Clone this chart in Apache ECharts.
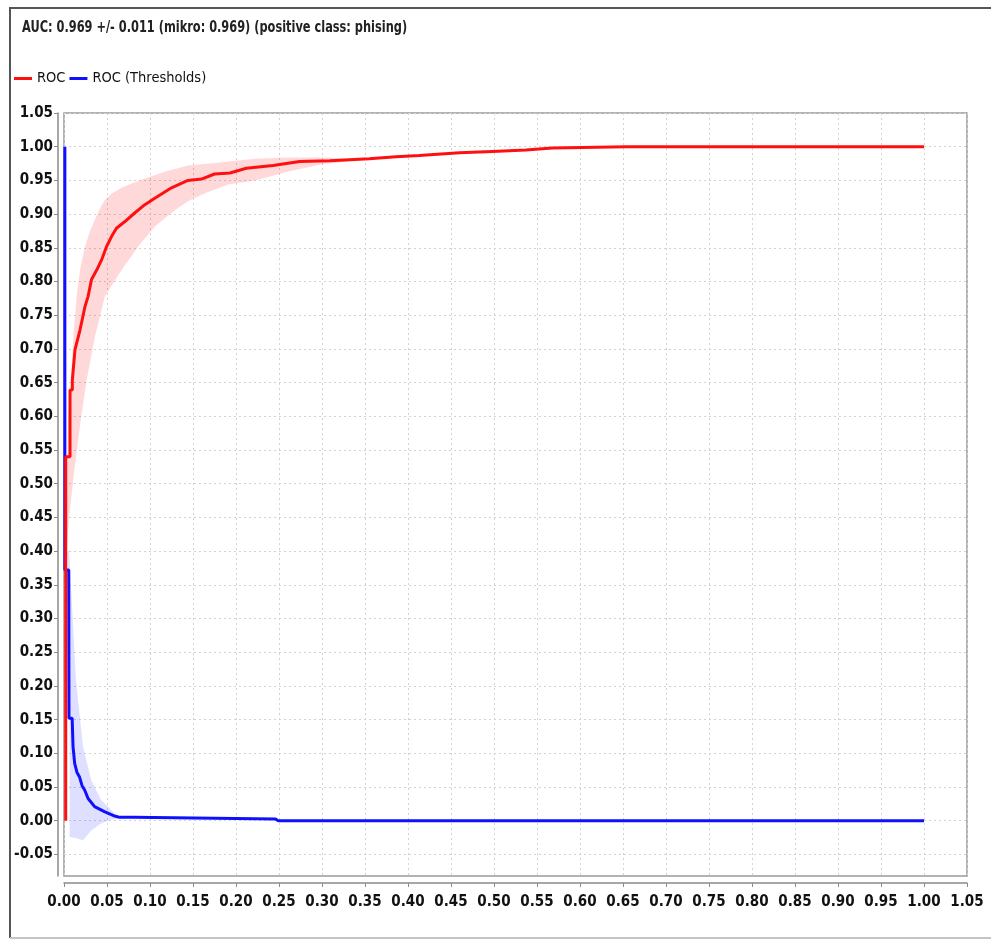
<!DOCTYPE html>
<html>
<head>
<meta charset="utf-8">
<script src="https://cdn.jsdelivr.net/npm/echarts@6/dist/echarts.min.js"></script>
<style>
html,body{margin:0;padding:0;background:#fff;}
#chart{width:991px;height:942px;}
</style>
</head>
<body>
<div id="chart"></div>
<script>
const titleText = 'AUC: 0.969 +/- 0.011 (mikro: 0.969) (positive class: phising)';
const seriesNames = ['ROC', 'ROC (Thresholds)'];

const xTicks = [0,0.05,0.10,0.15,0.20,0.25,0.30,0.35,0.40,0.45,0.50,0.55,0.60,0.65,0.70,0.75,0.80,0.85,0.90,0.95,1.00,1.05];
const yTicks = [-0.05,0,0.05,0.10,0.15,0.20,0.25,0.30,0.35,0.40,0.45,0.50,0.55,0.60,0.65,0.70,0.75,0.80,0.85,0.90,0.95,1.00,1.05];

// ROC curve (FPR, TPR)
const rocPoints = [
  [0.002,0.0],[0.002,0.54],[0.007,0.54],[0.007,0.639],[0.0097,0.639],[0.0097,0.654],
  [0.0128,0.699],[0.0186,0.728],[0.0244,0.763],[0.028,0.778],[0.032,0.803],[0.038,0.817],
  [0.0437,0.832],[0.0495,0.852],[0.0554,0.867],[0.061,0.879],[0.0708,0.889],[0.0825,0.902],
  [0.094,0.914],[0.106,0.924],[0.125,0.939],[0.144,0.950],[0.16,0.952],[0.175,0.9595],
  [0.193,0.961],[0.212,0.968],[0.243,0.972],[0.274,0.978],[0.309,0.979],[0.355,0.982],
  [0.386,0.985],[0.413,0.987],[0.46,0.991],[0.498,0.993],[0.537,0.995],[0.568,0.998],
  [0.654,1.0],[1.0,1.0]
];
// ROC thresholds curve
const thrPoints = [
  [0.001,1.0],[0.001,0.372],[0.0055,0.372],[0.0058,0.152],[0.0095,0.152],
  [0.0105,0.110],[0.0124,0.085],[0.015,0.072],[0.018,0.065],[0.021,0.052],[0.024,0.0456],
  [0.028,0.033],[0.0356,0.021],[0.047,0.0134],[0.059,0.007],[0.065,0.005],[0.081,0.005],
  [0.083,0.0025],[0.246,0.0025],[0.249,0.0],[1.0,0.0]
];
// ROC deviation band edges (same direction, polygon = outer + reversed inner)
const rocBandOuter = [
  [0.001,0.40],[0.003,0.50],[0.005,0.60],[0.0081,0.654],[0.011,0.72],[0.0147,0.778],
  [0.019,0.82],[0.0244,0.852],[0.030,0.874],[0.036,0.892],[0.042,0.909],[0.0476,0.921],
  [0.056,0.931],[0.067,0.939],[0.078,0.945],[0.090,0.951],[0.117,0.963],[0.144,0.972],
  [0.175,0.976],[0.222,0.982],[0.26,0.984],[0.30,0.984],[0.33,0.982]
];
const rocBandInner = [
  [0.003,0.40],[0.006,0.45],[0.012,0.52],[0.020,0.60],[0.0264,0.654],[0.036,0.718],
  [0.0476,0.778],[0.067,0.817],[0.0863,0.852],[0.106,0.882],[0.125,0.902],[0.144,0.919],
  [0.164,0.931],[0.191,0.944],[0.222,0.950],[0.26,0.963],[0.30,0.974],[0.33,0.978]
];
// Thresholds deviation band edges
const thrBandOuter = [
  [0.006,0.40],[0.0139,0.209],[0.018,0.160],[0.022,0.110],[0.0317,0.060],
  [0.043,0.031],[0.055,0.016],[0.060,0.008],[0.067,0.003]
];
const thrBandInner = [
  [0.004,0.40],[0.0066,0.18],[0.0066,-0.024],[0.015,-0.026],[0.022,-0.029],
  [0.032,-0.014],[0.043,-0.004],[0.055,0.002],[0.067,0.003]
];

const labelFont = "'DejaVu Sans Condensed', 'DejaVu Sans', sans-serif";

function bandSeries(outer, inner, color) {
  const poly = outer.concat(inner.slice().reverse());
  return {
    type: 'custom',
    silent: true,
    clip: true,
    z: 1,
    data: [[0, 0]],
    renderItem: function (params, api) {
      return {
        type: 'polygon',
        shape: { points: poly.map(p => api.coord(p)) },
        style: { fill: color, stroke: null }
      };
    }
  };
}

const chart = echarts.init(document.getElementById('chart'), null, { renderer: 'canvas' });
chart.setOption({
  animation: false,
  backgroundColor: '#fff',
  legend: {
    left: 14, top: 71, padding: 0,
    itemWidth: 18, itemHeight: 3, itemGap: 4,
    icon: 'rect',
    data: seriesNames,
    textStyle: { fontFamily: labelFont, fontSize: 14.5, color: '#111' }
  },
  graphic: [
    { type: 'line', shape: { x1: 9, y1: 8, x2: 991, y2: 8 }, style: { stroke: '#555', lineWidth: 2 } },
    { type: 'line', shape: { x1: 10, y1: 8, x2: 10, y2: 938 }, style: { stroke: '#555', lineWidth: 2 } },
    { type: 'line', shape: { x1: 10, y1: 938, x2: 991, y2: 938 }, style: { stroke: '#c4c4c4', lineWidth: 2 } },
    {
      type: 'text', x: 22, y: 28, scaleX: 0.79,
      style: {
        text: titleText, fill: '#222',
        font: "bold 16px 'DejaVu Sans Condensed', 'DejaVu Sans', sans-serif",
        verticalAlign: 'middle', align: 'left'
      }
    }
  ],
  grid: {
    left: 64, right: 24, top: 113, bottom: 66,
    show: true, borderColor: '#9a9a9a', borderWidth: 1.5, backgroundColor: 'transparent'
  },
  xAxis: {
    type: 'value', min: 0, max: 1.05,
    offset: 7,
    axisLine: { show: true, onZero: false, lineStyle: { color: '#8a8a8a', width: 1.5 } },
    axisTick: { show: true, length: 4, inside: false, customValues: xTicks, lineStyle: { color: '#8a8a8a' } },
    axisLabel: {
      customValues: xTicks, margin: 12,
      formatter: v => v.toFixed(2),
      fontFamily: labelFont, fontWeight: 'bold', fontSize: 15, color: '#111'
    },
    splitLine: { show: true, lineStyle: { color: '#d2d2d2', type: [2, 3], width: 1 } }
  },
  yAxis: {
    type: 'value', min: -0.082, max: 1.05,
    offset: 6,
    axisLine: { show: true, onZero: false, lineStyle: { color: '#8a8a8a', width: 1.5 } },
    axisTick: { show: true, length: 4, inside: false, customValues: yTicks, lineStyle: { color: '#8a8a8a' } },
    axisLabel: {
      customValues: yTicks, margin: 5,
      formatter: v => v.toFixed(2),
      fontFamily: labelFont, fontWeight: 'bold', fontSize: 15, color: '#111'
    },
    splitLine: { show: true, lineStyle: { color: '#d2d2d2', type: [2, 3], width: 1 } }
  },
  series: [
    bandSeries(rocBandOuter, rocBandInner, 'rgba(255,0,0,0.15)'),
    bandSeries(thrBandOuter, thrBandInner, 'rgba(40,40,255,0.15)'),
    {
      name: seriesNames[1], type: 'line', data: thrPoints,
      showSymbol: false, symbol: 'none', z: 3,
      lineStyle: { color: '#1010ff', width: 3 }, itemStyle: { color: '#1010ff' }
    },
    {
      name: seriesNames[0], type: 'line', data: rocPoints,
      showSymbol: false, symbol: 'none', z: 4,
      lineStyle: { color: '#ff1010', width: 3 }, itemStyle: { color: '#ff1010' }
    }
  ]
});
</script>
</body>
</html>
